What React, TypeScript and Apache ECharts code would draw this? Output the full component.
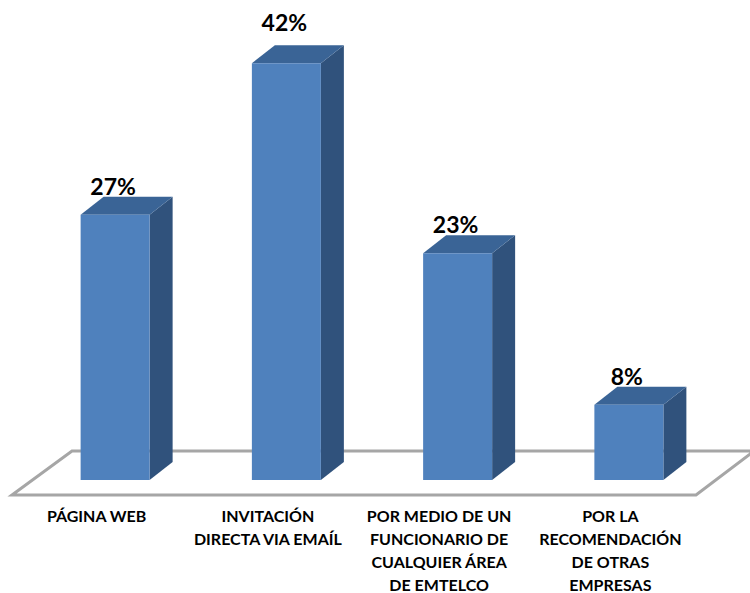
import React, { useEffect, useRef } from "react";
import * as echarts from "echarts";

const categories = [
  "PÁGINA WEB",
  "INVITACIÓN\nDIRECTA VIA EMAÍL",
  "POR MEDIO DE UN\nFUNCIONARIO DE\nCUALQUIER ÁREA\nDE EMTELCO",
  "POR LA\nRECOMENDACIÓN\nDE OTRAS\nEMPRESAS",
];
const values = [26.8, 42.1, 22.9, 7.6];
const valueLabels = ["27%", "42%", "23%", "8%"];

const FONT = "Lato";
const FRONT = "#4F81BD";
const TOP = "#3A6496";
const SIDE = "#30527C";
const FLOOR = "#A6A6A6";
const BAR_W = 69;
const DEPTH_X = 23;
const DEPTH_Y = 18;
const SHIFT_X = 18.5;
const SHIFT_Y = 15;

function renderBar(params: any, api: any) {
  const i = api.value(0);
  const v = api.value(1);
  const top = api.coord([i, v]);
  const base = api.coord([i, 0]);
  const l = top[0] + SHIFT_X - BAR_W / 2;
  const r = l + BAR_W;
  const t = top[1] - SHIFT_Y;
  const b = base[1] - SHIFT_Y;
  const lift = v > 40 ? 41 : 29;
  return {
    type: "group",
    children: [
      {
        type: "polygon",
        shape: { points: [[r, t], [r + DEPTH_X, t - DEPTH_Y], [r + DEPTH_X, b - DEPTH_Y], [r, b]] },
        style: { fill: SIDE },
      },
      {
        type: "polygon",
        shape: { points: [[l, t], [l + DEPTH_X, t - DEPTH_Y], [r + DEPTH_X, t - DEPTH_Y], [r, t]] },
        style: { fill: TOP },
      },
      { type: "rect", shape: { x: l, y: t, width: BAR_W, height: b - t }, style: { fill: FRONT } },
      {
        type: "text",
        style: {
          x: (l + r) / 2 - 2,
          y: t - lift,
          text: valueLabels[params.dataIndex],
          fill: "#000",
          font: `bold 23px ${FONT}`,
          align: "center",
          verticalAlign: "middle",
        },
      },
    ],
  };
}

export default function App() {
  const ref = useRef<HTMLDivElement>(null);
  useEffect(() => {
    const chart = echarts.init(ref.current!, null, { renderer: "svg" });
    chart.setOption({
      animation: false,
      backgroundColor: "#fff",
      grid: { left: 11, right: 54, top: 0, bottom: 98, outerBoundsMode: "none" },
      graphic: [
        {
          type: "polygon",
          z: 0,
          shape: { points: [[12, 495], [72, 451], [754, 451], [696, 495]] },
          style: { fill: "transparent", stroke: FLOOR, lineWidth: 3 },
        },
      ],
      xAxis: {
        type: "category",
        data: categories,
        axisLine: { show: false },
        axisTick: { show: false },
        axisLabel: {
          interval: 0,
          margin: 9,
          color: "#000",
          fontFamily: FONT,
          fontWeight: "bold",
          fontSize: 16,
          lineHeight: 23,
          align: "center",
          verticalAlign: "top",
        },
      },
      yAxis: { type: "value", min: 0, max: 50, show: false },
      series: [
        {
          type: "custom",
          z: 5,
          clip: false,
          renderItem: renderBar,
          encode: { x: 0, y: 1 },
          data: values.map((v, i) => [i, v]),
        },
      ],
    });
    return () => chart.dispose();
  }, []);
  return <div ref={ref} style={{ position: "fixed", left: 0, top: 0, width: 750, height: 593 }} />;
}
